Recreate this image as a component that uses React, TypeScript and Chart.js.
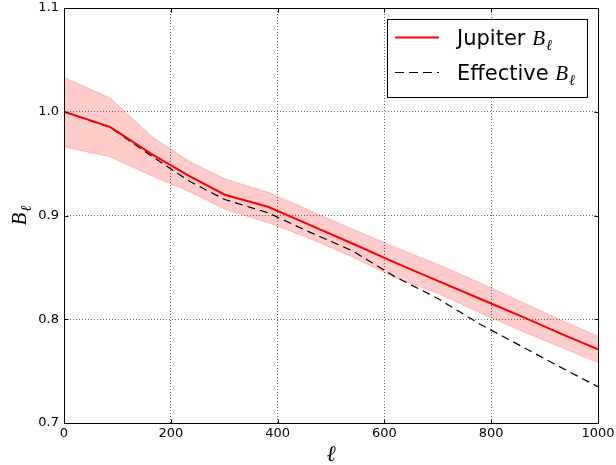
import React, { useEffect, useRef } from "react";
import { Chart, registerables } from "chart.js";

Chart.register(...registerables);

// multipole ℓ
const ellValues = [0, 86, 165, 235, 301, 382, 460, 540, 620, 700, 780, 860, 940, 1000];
// Jupiter B_ℓ (mean) and its 1σ band
const jupiterB = [1.0, 0.9855, 0.959, 0.938, 0.92, 0.9084, 0.891, 0.873, 0.8545, 0.837, 0.8195, 0.802, 0.784, 0.771];
const jupiterUpper = [1.033, 1.0135, 0.976, 0.952, 0.9354, 0.9225, 0.905, 0.887, 0.8695, 0.853, 0.835, 0.816, 0.797, 0.7836];
const jupiterLower = [0.966, 0.9566, 0.938, 0.923, 0.906, 0.893, 0.878, 0.86, 0.84, 0.825, 0.806, 0.788, 0.771, 0.758];
// Effective B_ℓ
const effectiveB = [1.0, 0.985, 0.957, 0.933, 0.9154, 0.9026, 0.884, 0.866, 0.841, 0.82, 0.795, 0.773, 0.751, 0.735];

const xTicks = [0, 200, 400, 600, 800, 1000];
const yTicks = [0.7, 0.8, 0.9, 1.0, 1.1];

const seriesLabels = ["Jupiter", "Effective"];

const pts = (ys: number[]) => ellValues.map((x, i) => ({ x, y: ys[i] }));

const MATH_FONT = '"Liberation Serif", "DejaVu Serif", serif';
const TEXT_FONT = '"DejaVu Sans", sans-serif';

function drawBell(ctx: CanvasRenderingContext2D, x: number, y: number, size: number) {
  ctx.textAlign = "left";
  ctx.textBaseline = "alphabetic";
  ctx.font = `italic ${size}px ${MATH_FONT}`;
  ctx.fillText("B", x, y);
  const wB = ctx.measureText("B").width;
  const sub = Math.round(size * 0.7);
  ctx.font = `italic ${sub}px ${MATH_FONT}`;
  ctx.fillText("ℓ", x + wB + 1, y + size * 0.22);
  const wl = ctx.measureText("ℓ").width;
  return wB + 1 + wl;
}

function measureBell(ctx: CanvasRenderingContext2D, size: number) {
  ctx.font = `italic ${size}px ${MATH_FONT}`;
  const wB = ctx.measureText("B").width;
  ctx.font = `italic ${Math.round(size * 0.7)}px ${MATH_FONT}`;
  return wB + 1 + ctx.measureText("ℓ").width;
}

const decorPlugin = {
  id: "decor",
  afterDraw(chart: any) {
    const ctx: CanvasRenderingContext2D = chart.ctx;
    const a = chart.chartArea;
    const L = Math.round(a.left) + 0.5;
    const R = Math.round(a.right) + 0.5;
    const T = Math.round(a.top) + 0.5;
    const B = Math.round(a.bottom) + 0.5;
    ctx.save();
    ctx.strokeStyle = "#000";
    ctx.lineWidth = 1;
    ctx.setLineDash([]);
    ctx.strokeRect(L, T, R - L, B - T);
    const tl = 4;
    ctx.beginPath();
    xTicks.forEach((v) => {
      const px = Math.round(chart.scales.x.getPixelForValue(v)) + 0.5;
      ctx.moveTo(px, B);
      ctx.lineTo(px, B - tl);
      ctx.moveTo(px, T);
      ctx.lineTo(px, T + tl);
    });
    yTicks.forEach((v) => {
      const py = Math.round(chart.scales.y.getPixelForValue(v)) + 0.5;
      ctx.moveTo(L, py);
      ctx.lineTo(L + tl, py);
      ctx.moveTo(R, py);
      ctx.lineTo(R - tl, py);
    });
    ctx.stroke();

    ctx.fillStyle = "#000";
    ctx.font = `italic 22px ${MATH_FONT}`;
    ctx.textAlign = "center";
    ctx.textBaseline = "alphabetic";
    ctx.fillText("ℓ", (a.left + a.right) / 2, 461);

    ctx.save();
    ctx.translate(26, (a.top + a.bottom) / 2);
    ctx.rotate(-Math.PI / 2);
    const wy = measureBell(ctx, 21);
    drawBell(ctx, -wy / 2, 0, 21);
    ctx.restore();

    const bx = 387.5, by = 19.5, bw = 200, bh = 78;
    ctx.fillStyle = "#fff";
    ctx.fillRect(bx, by, bw, bh);
    ctx.strokeStyle = "#000";
    ctx.lineWidth = 1;
    ctx.strokeRect(bx, by, bw, bh);

    const rows = [37.5, 72.5];
    ctx.strokeStyle = "#ff0000";
    ctx.lineWidth = 2;
    ctx.beginPath();
    ctx.moveTo(395, rows[0]);
    ctx.lineTo(439, rows[0]);
    ctx.stroke();
    ctx.strokeStyle = "#000";
    ctx.lineWidth = 1.2;
    ctx.setLineDash([9, 5]);
    ctx.beginPath();
    ctx.moveTo(395, rows[1]);
    ctx.lineTo(439, rows[1]);
    ctx.stroke();
    ctx.setLineDash([]);

    ctx.fillStyle = "#000";
    const fs = 21;
    rows.forEach((ry, i) => {
      ctx.font = `${fs}px ${TEXT_FONT}`;
      ctx.textAlign = "left";
      ctx.textBaseline = "alphabetic";
      const base = ry + 7.5;
      const label = seriesLabels[i] + " ";
      ctx.fillText(label, 457, base);
      const w = ctx.measureText(label).width;
      drawBell(ctx, 457 + w, base, fs);
    });
    ctx.restore();
  },
};

export default function App() {
  const ref = useRef<HTMLCanvasElement | null>(null);
  useEffect(() => {
    if (!ref.current) return;
    const bandColor = "rgba(255,0,0,0.2)";
    const chart = new Chart(ref.current, {
      type: "line",
      data: {
        datasets: [
          {
            label: "Jupiter B_ℓ",
            data: pts(jupiterB),
            borderColor: "#ff0000",
            borderWidth: 2,
            pointRadius: 0,
            fill: false,
            tension: 0,
            order: 0,
          },
          {
            label: "Effective B_ℓ",
            data: pts(effectiveB),
            borderColor: "#000000",
            borderWidth: 1.2,
            borderDash: [8, 5],
            pointRadius: 0,
            fill: false,
            tension: 0,
            order: 1,
          },
          {
            label: "upper",
            data: pts(jupiterUpper),
            borderColor: bandColor,
            backgroundColor: bandColor,
            borderWidth: 1,
            pointRadius: 0,
            fill: "+1",
            tension: 0,
            order: 2,
          },
          {
            label: "lower",
            data: pts(jupiterLower),
            borderColor: bandColor,
            borderWidth: 1,
            pointRadius: 0,
            fill: false,
            tension: 0,
            order: 3,
          },
        ],
      },
      options: {
        animation: false,
        responsive: false,
        events: [],
        layout: { padding: { top: 8, right: 18, left: 0, bottom: 0 } },
        plugins: {
          legend: { display: false },
          tooltip: { enabled: false },
        },
        scales: {
          x: {
            type: "linear",
            min: 0,
            max: 1000,
            afterFit: (s: any) => {
              s.height = 42;
              s.paddingLeft = 0;
              s.paddingRight = 0;
            },
            afterBuildTicks: (s: any) => {
              s.ticks = xTicks.map((v) => ({ value: v }));
            },
            ticks: {
              stepSize: 200,
              padding: 3,
              color: "#000",
              font: { family: "DejaVu Sans", size: 13 },
              maxRotation: 0,
              callback: (v: any) => String(v),
            },
            grid: {
              color: "rgba(0,0,0,0.6)",
              lineWidth: 1,
              drawTicks: false,
            },
            border: { display: false, dash: [1, 2] },
          },
          y: {
            type: "linear",
            min: 0.7,
            max: 1.1,
            afterFit: (s: any) => {
              s.width = 64;
              s.paddingTop = 0;
              s.paddingBottom = 0;
            },
            afterBuildTicks: (s: any) => {
              s.ticks = yTicks.map((v) => ({ value: v }));
            },
            ticks: {
              stepSize: 0.1,
              padding: 5,
              color: "#000",
              font: { family: "DejaVu Sans", size: 13 },
              callback: (v: any) => Number(v).toFixed(1),
            },
            grid: {
              color: "rgba(0,0,0,0.6)",
              lineWidth: 1,
              drawTicks: false,
            },
            border: { display: false, dash: [1, 2] },
          },
        },
      },
      plugins: [decorPlugin],
    });
    return () => chart.destroy();
  }, []);
  return (
    <div style={{ position: "absolute", left: 0, top: 0, width: 616, height: 465, background: "#fff" }}>
      <canvas ref={ref} width={616} height={465} />
    </div>
  );
}
